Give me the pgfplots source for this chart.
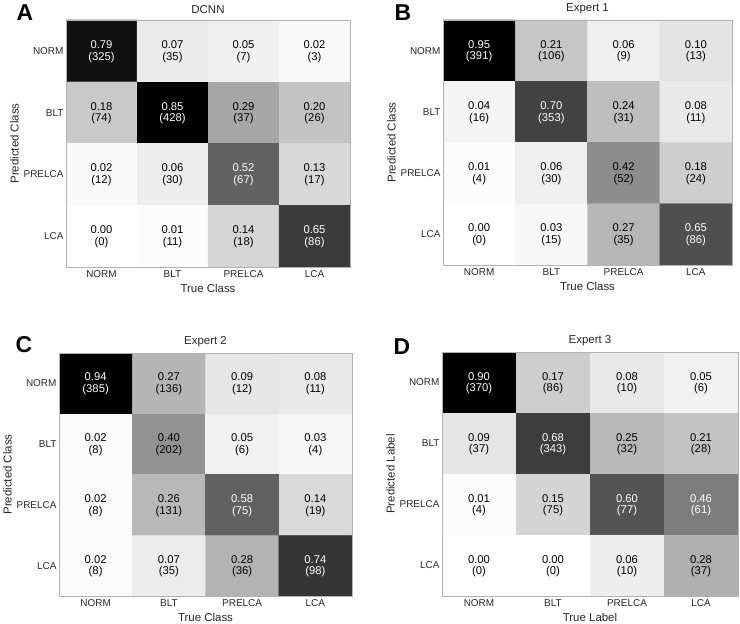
\documentclass[border=0pt]{standalone}
\usepackage{fontspec}
\setmainfont{Liberation Sans}
\usepackage{pgfplots}
\usepackage{pgfplotstable}
\pgfplotsset{compat=1.18}

% x = true class, y = predicted class (0 NORM, 1 BLT, 2 PRELCA, 3 LCA); w=1: white text
\pgfplotstableread{
x y v n w
0 0 0.79 325 1
1 0 0.07 35 0
2 0 0.05 7 0
3 0 0.02 3 0
0 1 0.18 74 0
1 1 0.85 428 1
2 1 0.29 37 0
3 1 0.20 26 0
0 2 0.02 12 0
1 2 0.06 30 0
2 2 0.52 67 1
3 2 0.13 17 0
0 3 0.00 0 0
1 3 0.01 11 0
2 3 0.14 18 0
3 3 0.65 86 1
}\tabA
\pgfplotstableread{
x y v n w
0 0 0.95 391 1
1 0 0.21 106 0
2 0 0.06 9 0
3 0 0.10 13 0
0 1 0.04 16 0
1 1 0.70 353 1
2 1 0.24 31 0
3 1 0.08 11 0
0 2 0.01 4 0
1 2 0.06 30 0
2 2 0.42 52 0
3 2 0.18 24 0
0 3 0.00 0 0
1 3 0.03 15 0
2 3 0.27 35 0
3 3 0.65 86 1
}\tabB
\pgfplotstableread{
x y v n w
0 0 0.94 385 1
1 0 0.27 136 0
2 0 0.09 12 0
3 0 0.08 11 0
0 1 0.02 8 0
1 1 0.40 202 0
2 1 0.05 6 0
3 1 0.03 4 0
0 2 0.02 8 0
1 2 0.26 131 0
2 2 0.58 75 1
3 2 0.14 19 0
0 3 0.02 8 0
1 3 0.07 35 0
2 3 0.28 36 0
3 3 0.74 98 1
}\tabC
\pgfplotstableread{
x y v n w
0 0 0.90 370 1
1 0 0.17 86 0
2 0 0.08 10 0
3 0 0.05 6 0
0 1 0.09 37 0
1 1 0.68 343 1
2 1 0.25 32 0
3 1 0.21 28 0
0 2 0.01 4 0
1 2 0.15 75 0
2 2 0.60 77 1
3 2 0.46 61 1
0 3 0.00 0 0
1 3 0.00 0 0
2 3 0.06 10 0
3 3 0.28 37 0
}\tabD

\pgfplotsset{cm/.style={
  scale only axis, y dir=reverse,
  xmin=-0.5, xmax=3.5, ymin=-0.5, ymax=3.5,
  xtick={0,1,2,3}, ytick={0,1,2,3},
  xticklabels={NORM,BLT,PRELCA,LCA}, yticklabels={NORM,BLT,PRELCA,LCA},
  major tick length=0pt,
  axis line style={draw=black!30},
  axis on top,
  colormap={bw}{gray(0cm)=(1); gray(1cm)=(0)},
  point meta min=0,
  tick label style={font=\fontsize{10}{12}\selectfont, text=black!85},
  yticklabel style={xshift=1pt},
  label style={font=\fontsize{11.5}{13}\selectfont, text=black!85},
  title style={font=\fontsize{11.5}{13}\selectfont, text=black!85, yshift=-3pt},
  ylabel shift=-2pt,
},
celltext/.style 2 args={only marks, mark=none, point meta=explicit symbolic,
    nodes near coords={#2},
    every node near coord/.append style={anchor=center,
      inner sep=0pt, text=#1, font=\fontsize{11.3}{13}\selectfont}},
}

\newcommand{\cmplot}[1]{%
  \addplot[matrix plot*, mesh/cols=4, point meta=explicit] table[meta=v] {#1};
  \addplot[celltext={black}{\pgfplotspointmeta}, every node near coord/.append style={yshift=6.3pt},
    x filter/.expression={\thisrow{w}<0.5 ? x : nan}] table[meta=v] {#1};
  \addplot[celltext={black}{(\pgfplotspointmeta)}, every node near coord/.append style={yshift=-6.3pt},
    x filter/.expression={\thisrow{w}<0.5 ? x : nan}] table[meta=n] {#1};
  \addplot[celltext={white}{\pgfplotspointmeta}, every node near coord/.append style={yshift=6.3pt},
    x filter/.expression={\thisrow{w}>0.5 ? x : nan}] table[meta=v] {#1};
  \addplot[celltext={white}{(\pgfplotspointmeta)}, every node near coord/.append style={yshift=-6.3pt},
    x filter/.expression={\thisrow{w}>0.5 ? x : nan}] table[meta=n] {#1};
}

\begin{document}
\begin{tikzpicture}
\useasboundingbox (0,0) rectangle (740bp,624bp);

\begin{axis}[cm, at={(66bp,357bp)}, width=284bp, height=247bp,
  title={DCNN}, xlabel={True Class}, ylabel={Predicted Class}]
\cmplot{\tabA}
\end{axis}

\begin{axis}[cm, at={(443bp,359bp)}, width=289bp, height=245bp,
  title={Expert 1}, xlabel={True Class}, ylabel={Predicted Class}]
\cmplot{\tabB}
\end{axis}

\begin{axis}[cm, at={(59bp,28bp)}, width=293bp, height=243bp,
  title={Expert 2}, xlabel={True Class}, ylabel={Predicted Class}]
\cmplot{\tabC}
\end{axis}

\begin{axis}[cm, at={(442bp,28bp)}, width=296bp, height=244bp,
  title={Expert 3}, xlabel={True Label}, ylabel={Predicted Label}]
\cmplot{\tabD}
\end{axis}

\node[font=\fontsize{23}{25}\selectfont\bfseries] at (25bp,611bp) {A};
\node[font=\fontsize{23}{25}\selectfont\bfseries] at (403bp,611bp) {B};
\node[font=\fontsize{23}{25}\selectfont\bfseries] at (24bp,279bp) {C};
\node[font=\fontsize{23}{25}\selectfont\bfseries] at (402bp,277bp) {D};
\end{tikzpicture}
\end{document}
